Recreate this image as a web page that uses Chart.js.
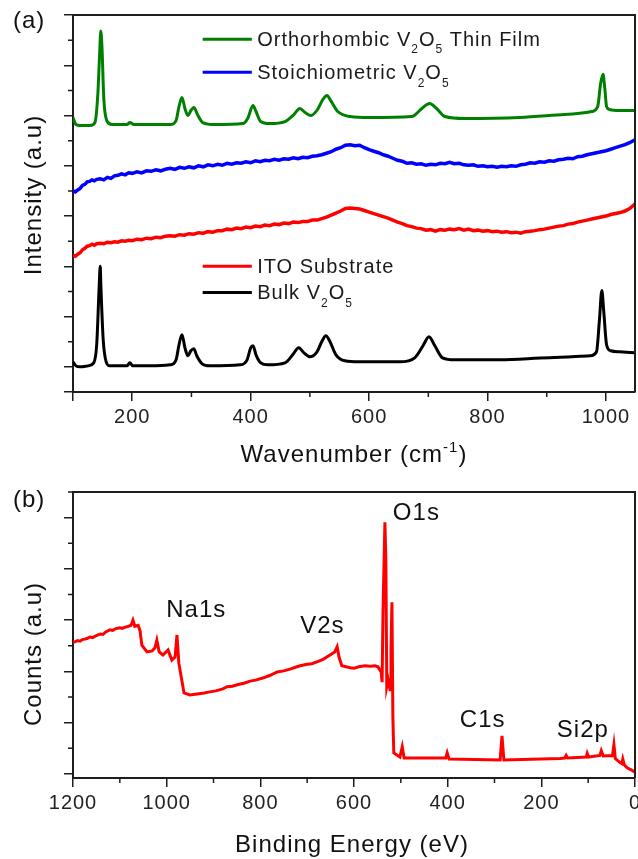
<!DOCTYPE html>
<html>
<head>
<meta charset="utf-8">
<script src="https://cdn.jsdelivr.net/npm/chart.js@4.4.0/dist/chart.umd.min.js"></script>
<style>
html, body { margin: 0; padding: 0; background: #fff; }
#wrap { position: relative; width: 638px; height: 859px; }
canvas { position: absolute; left: 0; }
</style>
</head>
<body>
<div id="wrap">
  <canvas id="raman" width="638" height="470" style="top:0;width:638px;height:470px"></canvas>
  <canvas id="xps" width="638" height="389" style="top:470px;width:638px;height:389px"></canvas>
</div>
<script>
// 1. Data (stacked/offset intensities, arbitrary units)

// (a) Raman spectra: [wavenumber cm-1, offset intensity]
const orthorhombicFilm = [[100,4.96],[105,4.82],[112,4.80],[129,4.80],[137,4.86],[142,5.44],[145,6.24],[147,6.68],[149,6.34],[152,5.34],[157,4.90],[166,4.82],[191,4.82],[196,4.86],[203,4.82],[264,4.82],[274,4.90],[279,5.18],[284,5.36],[289,5.14],[294,5.00],[299,5.10],[304,5.16],[311,5.00],[319,4.86],[340,4.82],[387,4.84],[395,4.94],[404,5.20],[409,5.08],[417,4.88],[432,4.84],[458,4.88],[473,5.02],[483,5.14],[492,5.06],[502,5.00],[513,5.12],[522,5.32],[529,5.40],[535,5.30],[547,5.08],[568,4.98],[601,4.96],[672,4.98],[689,5.14],[702,5.24],[714,5.14],[728,4.98],[762,4.94],[854,4.96],[930,5.02],[976,5.08],[986,5.18],[991,5.64],[995,5.82],[998,5.54],[1001,5.18],[1006,5.12],[1023,5.10],[1049,5.10]];

const stoichiometric = [[100,3.50],[104,3.48],[108,3.52],[112,3.55],[116,3.61],[120,3.63],[124,3.68],[128,3.69],[132,3.72],[136,3.70],[140,3.73],[146,3.74],[152,3.72],[158,3.77],[164,3.75],[170,3.80],[176,3.81],[182,3.84],[188,3.82],[194,3.86],[200,3.85],[208,3.88],[216,3.86],[224,3.90],[232,3.89],[240,3.92],[248,3.90],[256,3.93],[264,3.95],[272,3.93],[280,3.97],[288,3.95],[296,3.98],[304,3.96],[312,4.00],[320,3.98],[328,4.02],[336,4.00],[344,4.03],[352,4.01],[360,4.05],[368,4.03],[376,4.06],[384,4.05],[392,4.08],[400,4.06],[408,4.10],[416,4.08],[424,4.11],[432,4.10],[440,4.13],[448,4.11],[456,4.14],[464,4.13],[472,4.16],[480,4.14],[488,4.17],[496,4.16],[504,4.19],[512,4.20],[520,4.22],[528,4.25],[536,4.28],[544,4.33],[552,4.36],[560,4.41],[568,4.42],[576,4.40],[584,4.41],[592,4.36],[600,4.32],[608,4.29],[616,4.26],[624,4.22],[632,4.19],[640,4.15],[648,4.11],[656,4.09],[664,4.05],[672,4.06],[680,4.03],[688,4.04],[696,4.01],[704,4.03],[712,4.02],[720,4.05],[728,4.04],[736,4.07],[744,4.04],[752,4.05],[760,4.02],[768,4.01],[776,4.02],[784,3.99],[792,4.00],[800,3.98],[808,3.99],[816,3.97],[824,3.99],[832,3.98],[840,4.00],[848,3.99],[856,4.02],[864,4.03],[872,4.06],[880,4.05],[888,4.08],[896,4.07],[904,4.10],[912,4.09],[920,4.12],[928,4.13],[936,4.15],[944,4.14],[952,4.18],[960,4.19],[968,4.22],[976,4.24],[984,4.26],[992,4.28],[1000,4.30],[1008,4.33],[1016,4.36],[1024,4.39],[1032,4.42],[1040,4.46],[1049,4.52]];

const itoSubstrate = [[100,2.22],[104,2.20],[108,2.24],[112,2.27],[116,2.33],[120,2.36],[124,2.40],[128,2.41],[132,2.44],[136,2.42],[140,2.45],[146,2.46],[152,2.45],[158,2.48],[164,2.47],[170,2.49],[176,2.48],[182,2.51],[188,2.50],[194,2.52],[200,2.51],[208,2.54],[216,2.53],[224,2.56],[232,2.55],[240,2.58],[248,2.57],[256,2.60],[264,2.61],[272,2.60],[280,2.63],[288,2.62],[296,2.65],[304,2.64],[312,2.67],[320,2.66],[328,2.69],[336,2.68],[344,2.71],[352,2.71],[360,2.74],[368,2.73],[376,2.76],[384,2.75],[392,2.78],[400,2.77],[408,2.80],[416,2.79],[424,2.82],[432,2.81],[440,2.84],[448,2.83],[456,2.86],[464,2.85],[472,2.88],[480,2.87],[488,2.89],[496,2.89],[504,2.92],[512,2.92],[520,2.95],[528,2.98],[536,3.02],[544,3.06],[552,3.10],[560,3.15],[568,3.16],[576,3.15],[584,3.14],[592,3.11],[600,3.08],[608,3.05],[616,3.02],[624,2.99],[632,2.96],[640,2.92],[648,2.88],[656,2.85],[664,2.81],[672,2.79],[680,2.76],[688,2.75],[696,2.72],[704,2.73],[712,2.70],[720,2.73],[728,2.72],[736,2.74],[744,2.73],[752,2.75],[760,2.72],[768,2.74],[776,2.71],[784,2.72],[792,2.70],[800,2.71],[808,2.69],[816,2.70],[824,2.68],[832,2.69],[840,2.67],[848,2.68],[856,2.66],[864,2.69],[872,2.70],[880,2.71],[888,2.73],[896,2.74],[904,2.76],[912,2.78],[920,2.80],[928,2.81],[936,2.84],[944,2.85],[952,2.88],[960,2.90],[968,2.92],[976,2.94],[984,2.96],[992,2.98],[1000,3.00],[1008,3.03],[1016,3.05],[1024,3.07],[1032,3.10],[1040,3.15],[1049,3.24]];

const bulkV2O5 = [[100,0.10],[105,0.02],[112,0],[125,0.02],[135,0.08],[140,0.44],[144,1.54],[146,2.0],[147,1.64],[151,0.54],[156,0.10],[162,0.02],[191,0.02],[196,0.08],[201,0.02],[230,0.02],[264,0.04],[274,0.14],[279,0.44],[284,0.64],[289,0.38],[294,0.22],[299,0.32],[304,0.36],[309,0.22],[318,0.06],[331,0.02],[382,0.04],[394,0.14],[400,0.38],[404,0.42],[409,0.24],[417,0.08],[429,0.04],[458,0.08],[471,0.24],[481,0.38],[490,0.28],[500,0.20],[512,0.30],[520,0.50],[527,0.62],[534,0.50],[544,0.24],[559,0.12],[584,0.10],[652,0.10],[677,0.18],[691,0.42],[701,0.60],[711,0.42],[724,0.18],[745,0.14],[821,0.14],[905,0.18],[973,0.22],[984,0.30],[989,0.94],[993,1.52],[996,1.14],[1001,0.44],[1008,0.32],[1023,0.30],[1049,0.28]];

const ramanXMajor = [100, 200, 400, 600, 800, 1000];
const ramanXMinor = [300, 500, 700, 900];
const ramanYMajor = [-0.5, 0, 1, 2, 3, 4, 5, 6, 7];
const ramanYMinor = [0.5, 1.5, 2.5, 3.5, 4.5, 5.5, 6.5];

// (b) XPS survey: [binding energy eV, counts]
const xpsSurvey = [[1200,2.57],[1195,2.58],[1190,2.60],[1185,2.59],[1180,2.62],[1175,2.63],[1170,2.64],[1164,2.67],[1158,2.66],[1150,2.70],[1142,2.73],[1136,2.72],[1130,2.77],[1121,2.81],[1115,2.80],[1110,2.83],[1100,2.85],[1095,2.84],[1090,2.86],[1085,2.87],[1076,2.90],[1072,3.00],[1068,2.88],[1061,2.90],[1057,2.80],[1053,2.51],[1042,2.38],[1031,2.40],[1025,2.46],[1021,2.61],[1016,2.38],[1008,2.32],[997,2.42],[989,2.22],[982,2.28],[978,2.71],[974,2.16],[963,1.58],[950,1.54],[935,1.56],[920,1.58],[908,1.60],[895,1.62],[880,1.66],[871,1.70],[860,1.71],[845,1.75],[835,1.77],[822,1.81],[810,1.83],[795,1.87],[780,1.92],[764,1.99],[750,2.01],[735,2.05],[725,2.08],[715,2.11],[700,2.14],[690,2.15],[675,2.20],[665,2.24],[658,2.28],[641,2.38],[636,2.48],[632,2.28],[626,2.11],[608,2.07],[600,2.06],[590,2.09],[576,2.11],[565,2.10],[555,2.11],[549,2.09],[542,1.99],[540,1.79],[538,3.20],[534,4.91],[532,4.17],[530,1.70],[527,1.83],[523,1.64],[521,2.42],[519,3.35],[517,1.11],[515,0.41],[502,0.33],[497,0.53],[493,0.31],[444,0.31],[404,0.31],[401,0.41],[397,0.29],[288,0.27],[284,0.74],[280,0.27],[160,0.30],[150,0.31],[147,0.36],[144,0.31],[104,0.33],[102,0.40],[99,0.33],[75,0.36],[72,0.45],[68,0.35],[48,0.36],[45,0.57],[42,0.30],[32,0.22],[28,0.20],[26,0.29],[23,0.18],[17,0.12],[8,0.08],[0,0.03]];

const xpsXMajor = [0, 200, 400, 600, 800, 1000, 1200];
const xpsXMinor = [100, 300, 500, 700, 900, 1100];
const xpsYMajor = [0, 1, 2, 3, 4, 5];
const xpsYMinor = [0.5, 1.5, 2.5, 3.5, 4.5, 5.5];

// peak labels: [text, binding energy, counts] (left/baseline anchor)
const xpsPeakLabels = [['O1s', 517, 4.95], ['Na1s', 1001, 3.06], ['V2s', 715, 2.75], ['C1s', 374, 0.92], ['Si2p', 167, 0.72]];


// 2. Helpers

const FONT = "'Liberation Sans', Arial, sans-serif";
const AXIS_COLOR = '#1e1e1e';

function toPoints(pairs) {
    return pairs.map(p => ({ x: p[0], y: p[1] }));
}

function richText(ctx, parts, x, y, size) { // parts: [text, 'sub' | 'sup' | ''] drawn left to right
    let cx = x;
    parts.forEach(([t, kind]) => {
        const small = kind === 'sub' || kind === 'sup';
        ctx.font = (small ? Math.round(size * 0.62) : size) + 'px ' + FONT;
        const dy = kind === 'sub' ? size * 0.36 : kind === 'sup' ? -size * 0.42 : 0;
        ctx.fillText(t, cx, y + dy);
        cx += ctx.measureText(t).width;
    });
    return cx - x;
}

const spacing = { // letter spacing to match the wide-looking text in the original
    id: 'spacing',
    beforeDraw(chart) { chart.ctx.letterSpacing = '1px'; }
};

const frameAndMinor = { // frame top/right, plus short minor ticks
    id: 'frameAndMinor',
    afterDraw(chart, args, opts) {
        const { ctx, chartArea: a, scales: { x, y } } = chart;
        ctx.save();
        ctx.strokeStyle = AXIS_COLOR;
        ctx.lineWidth = 1.5;
        ctx.beginPath();
        opts.x.forEach(v => {
            const p = x.getPixelForValue(v);
            ctx.moveTo(p, a.bottom);
            ctx.lineTo(p, a.bottom + 5);
        });
        opts.y.forEach(v => {
            const p = y.getPixelForValue(v);
            ctx.moveTo(a.left, p);
            ctx.lineTo(a.left - 5, p);
        });
        ctx.stroke();
        ctx.lineWidth = 2;
        ctx.beginPath();
        ctx.moveTo(a.left, a.top);
        ctx.lineTo(a.right, a.top);
        ctx.lineTo(a.right, a.bottom);
        ctx.stroke();
        ctx.restore();
    }
};

function axisOptions(min, max, major, isX, size, labelled, reverse) {
    return {
        type: 'linear',
        min: min,
        max: max,
        reverse: !!reverse,
        afterBuildTicks: s => { s.ticks = major.map(v => ({ value: v })); },
        afterFit: s => {
            if (isX) { s.height = size; s.paddingLeft = 0; s.paddingRight = 0; }
            else { s.width = size; s.paddingTop = 0; s.paddingBottom = 0; }
        },
        grid: { drawOnChartArea: false, drawTicks: true, tickLength: 9, color: AXIS_COLOR, lineWidth: 1.5 },
        border: { color: AXIS_COLOR, width: 2 },
        ticks: {
            display: labelled,
            padding: 4,
            color: '#222',
            maxRotation: 0,
            autoSkip: false,
            font: { family: FONT, size: 20 },
            callback: v => (v === 100 && !reverse) ? '' : String(v)
        }
    };
}


// 3. (a) Raman chart

const orthoColor = '#008000';
const stoichColor = '#0000ff';
const itoColor = '#ff0000';
const bulkColor = '#000000';

const ramanText = {
    id: 'ramanText',
    afterDraw(chart) {
        const { ctx, scales: { x, y } } = chart;
        ctx.save();
        ctx.fillStyle = '#111';
        ctx.textBaseline = 'alphabetic';
        ctx.textAlign = 'left';

        ctx.font = '24px ' + FONT;
        ctx.fillText('(a)', 13, 28);

        // x title with superscript
        const parts = [['Wavenumber (cm', ''], ['-1', 'sup'], [')', '']];
        ctx.globalAlpha = 0;
        const w = richText(ctx, parts, 0, 0, 24);
        ctx.globalAlpha = 1;
        richText(ctx, parts, 354 - w / 2, 462, 24);

        // y title
        ctx.save();
        ctx.translate(41, 195);
        ctx.rotate(-Math.PI / 2);
        ctx.textAlign = 'center';
        ctx.font = '24px ' + FONT;
        ctx.fillText('Intensity (a.u)', 0, 0);
        ctx.restore();

        // legend rows
        const rows = [
            [orthoColor, 6.52, [['Orthorhombic V', ''], ['2', 'sub'], ['O', ''], ['5', 'sub'], [' Thin Film', '']]],
            [stoichColor, 5.86, [['Stoichiometric V', ''], ['2', 'sub'], ['O', ''], ['5', 'sub']]],
            [itoColor, 2.0, [['ITO Substrate', '']]],
            [bulkColor, 1.48, [['Bulk V', ''], ['2', 'sub'], ['O', ''], ['5', 'sub']]]
        ];
        const x0 = x.getPixelForValue(319), x1 = x.getPixelForValue(402), xt = x.getPixelForValue(411);
        rows.forEach(([color, yv, text]) => {
            const py = y.getPixelForValue(yv);
            ctx.strokeStyle = color;
            ctx.lineWidth = 3;
            ctx.beginPath();
            ctx.moveTo(x0, py);
            ctx.lineTo(x1, py);
            ctx.stroke();
            ctx.fillStyle = '#1a1a1a';
            richText(ctx, text, xt, py + 7, 20);
        });
        ctx.restore();
    }
};

function lineSet(pairs, color, width, smooth) {
    return {
        data: toPoints(pairs),
        borderColor: color,
        borderWidth: width,
        pointRadius: 0,
        fill: false,
        tension: 0,
        cubicInterpolationMode: smooth ? 'monotone' : 'default'
    };
}

new Chart(document.getElementById('raman'), {
    type: 'line',
    data: {
        datasets: [
            lineSet(bulkV2O5, bulkColor, 3, true),
            lineSet(itoSubstrate, itoColor, 3.5, false),
            lineSet(stoichiometric, stoichColor, 3.5, false),
            lineSet(orthorhombicFilm, orthoColor, 3, true)
        ]
    },
    options: {
        responsive: false,
        animation: false,
        layout: { padding: { top: 15, right: 3, left: 0, bottom: 0 } },
        plugins: {
            legend: { display: false },
            tooltip: { enabled: false },
            frameAndMinor: { x: ramanXMinor, y: ramanYMinor }
        },
        scales: {
            x: axisOptions(100, 1049, ramanXMajor, true, 78, true, false),
            y: axisOptions(-0.5, 7, ramanYMajor, false, 73, false, false)
        }
    },
    plugins: [spacing, frameAndMinor, ramanText]
});


// 4. (b) XPS chart

const xpsText = {
    id: 'xpsText',
    afterDraw(chart) {
        const { ctx, scales: { x, y } } = chart;
        ctx.save();
        ctx.fillStyle = '#111';
        ctx.textAlign = 'left';
        ctx.font = '24px ' + FONT;
        ctx.fillText('(b)', 13, 37);

        xpsPeakLabels.forEach(([t, be, c]) => {
            ctx.fillText(t, x.getPixelForValue(be), y.getPixelForValue(c));
        });

        ctx.textAlign = 'center';
        ctx.fillText('Binding Energy (eV)', 352, 382);

        ctx.translate(41, 184);
        ctx.rotate(-Math.PI / 2);
        ctx.fillText('Counts (a.u)', 0, 0);
        ctx.restore();
    }
};

new Chart(document.getElementById('xps'), {
    type: 'line',
    data: {
        datasets: [{
            data: toPoints(xpsSurvey),
            borderColor: '#ff0000',
            borderWidth: 3,
            pointRadius: 0,
            fill: false,
            tension: 0
        }]
    },
    options: {
        responsive: false,
        animation: false,
        layout: { padding: { top: 22, right: 3, left: 0, bottom: 0 } },
        plugins: {
            legend: { display: false },
            tooltip: { enabled: false },
            frameAndMinor: { x: xpsXMinor, y: xpsYMinor }
        },
        scales: {
            x: axisOptions(0, 1200, xpsXMajor, true, 81, true, true),
            y: axisOptions(-0.08, 5.5, xpsYMajor, false, 73, false, false)
        }
    },
    plugins: [spacing, frameAndMinor, xpsText]
});
</script>
</body>
</html>
